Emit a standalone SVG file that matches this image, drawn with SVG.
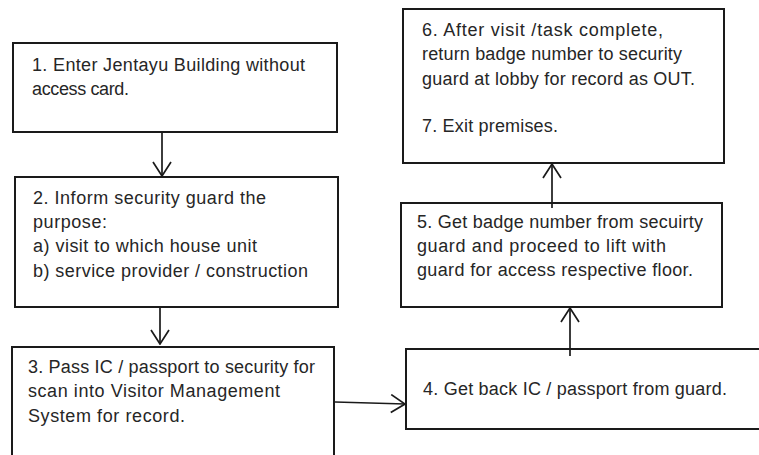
<svg xmlns="http://www.w3.org/2000/svg" width="759" height="455" viewBox="0 0 759 455">
<style>
.box{fill:#fff;stroke:#1a1a1a;stroke-width:2}
.t{font-family:"Liberation Sans",Arial,sans-serif;font-size:18px;fill:#262626}
.c{fill:none;stroke:#1a1a1a;stroke-width:1.7}
</style>
<defs>
<marker id="ah" markerUnits="userSpaceOnUse" viewBox="0 0 16 20" refX="15" refY="10" markerWidth="16" markerHeight="20" orient="auto">
<path d="M1,1 L15,10 L1,19" fill="none" stroke="#1a1a1a" stroke-width="1.7"/>
</marker>
</defs>
<rect width="759" height="455" fill="#fff"/>
<g id="n1">
<rect class="box" x="13" y="43" width="324" height="89"/>
<text class="t" x="32" y="71" textLength="273" lengthAdjust="spacing">1. Enter Jentayu Building without</text>
<text class="t" x="32" y="95" textLength="97" lengthAdjust="spacing">access card.</text>
</g>
<g id="n2">
<rect class="box" x="15" y="177" width="323" height="130"/>
<text class="t" x="33" y="204" textLength="233" lengthAdjust="spacing">2. Inform security guard the</text>
<text class="t" x="33" y="228" textLength="74" lengthAdjust="spacing">purpose:</text>
<text class="t" x="33" y="252" textLength="224" lengthAdjust="spacing">a) visit to which house unit</text>
<text class="t" x="33" y="277" textLength="275" lengthAdjust="spacing">b) service provider / construction</text>
</g>
<g id="n3">
<rect class="box" x="12" y="347" width="322" height="120"/>
<text class="t" x="28" y="373" textLength="287" lengthAdjust="spacing">3. Pass IC / passport to security for</text>
<text class="t" x="28" y="397" textLength="252" lengthAdjust="spacing">scan into Visitor Management</text>
<text class="t" x="28" y="422" textLength="157" lengthAdjust="spacing">System for record.</text>
</g>
<g id="n4">
<rect class="box" x="406" y="349" width="360" height="80"/>
<text class="t" x="423" y="395" textLength="304" lengthAdjust="spacing">4. Get back IC / passport from guard.</text>
</g>
<g id="n5">
<rect class="box" x="401" y="203" width="321" height="104"/>
<text class="t" x="417" y="228" textLength="286" lengthAdjust="spacing">5. Get badge number from secuirty</text>
<text class="t" x="417" y="252" textLength="249" lengthAdjust="spacing">guard and proceed to lift with</text>
<text class="t" x="417" y="276" textLength="276" lengthAdjust="spacing">guard for access respective floor.</text>
</g>
<g id="n6">
<rect class="box" x="403" y="9" width="321" height="154"/>
<text class="t" x="422" y="36" textLength="241" lengthAdjust="spacing">6. After visit /task complete,</text>
<text class="t" x="422" y="60" textLength="260" lengthAdjust="spacing">return badge number to security</text>
<text class="t" x="422" y="85" textLength="273" lengthAdjust="spacing">guard at lobby for record as OUT.</text>
<text class="t" x="422" y="132" textLength="136" lengthAdjust="spacing">7. Exit premises.</text>
</g>
<g id="connectors">
<path class="c" d="M162,133 L162,176" marker-end="url(#ah)"/>
<path class="c" d="M160,308 L160,344" marker-end="url(#ah)"/>
<path class="c" d="M335,402 L405,404" marker-end="url(#ah)"/>
<path class="c" d="M570,356 L570,308" marker-end="url(#ah)"/>
<path class="c" d="M552,208 L552,164" marker-end="url(#ah)"/>
</g>
</svg>
